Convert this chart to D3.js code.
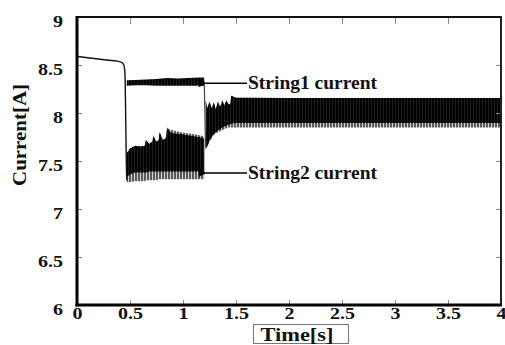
<!DOCTYPE html>
<html>
<head>
<meta charset="utf-8">
<script src="https://cdn.jsdelivr.net/npm/d3@7"></script>
<style>
  html, body { margin: 0; padding: 0; background: #fff; }
  svg { display: block; }
  text { font-family: "Liberation Serif", "Times New Roman", serif; font-weight: bold; fill: #111; }
</style>
</head>
<body>
<svg id="chart" width="505" height="345"></svg>
<script>
// Axis ticks
const xTicks = [0, 0.5, 1, 1.5, 2, 2.5, 3, 3.5, 4];
const yTicks = [6, 6.5, 7, 7.5, 8, 8.5, 9];

// Common current before the strings separate (time [s], current [A])
const startT = [0, 0.1, 0.2, 0.3, 0.38, 0.42, 0.44, 0.45, 0.455, 0.46, 0.465, 0.47];
const startI = [8.59, 8.575, 8.562, 8.55, 8.54, 8.528, 8.505, 8.45, 8.3, 7.9, 7.5, 7.3];

// String1 ripple envelope, 0.47 s .. 1.2 s
const s1T  = [0.47, 0.55, 0.65, 0.75, 0.85, 0.95, 1.05, 1.15, 1.2];
const s1Hi = [8.34, 8.345, 8.35, 8.355, 8.365, 8.36, 8.365, 8.37, 8.37];
const s1Lo = [8.285, 8.29, 8.29, 8.285, 8.285, 8.285, 8.285, 8.285, 8.285];

// String1 step back down after 1.2 s
const dropT = [1.2, 1.205, 1.21, 1.215];
const dropI = [8.33, 8.1, 7.8, 7.64];

// String2 ripple envelope, 0.47 s .. 1.2 s (dense core and lighter fringe)
const s2T      = [0.47, 0.5, 0.55, 0.6, 0.64, 0.65, 0.68, 0.71, 0.72, 0.75, 0.77, 0.78, 0.81, 0.84, 0.85, 0.87, 0.9, 0.98, 1.09, 1.19, 1.2];
const s2Hi     = [7.58, 7.63, 7.66, 7.65, 7.66, 7.72, 7.68, 7.70, 7.76, 7.70, 7.72, 7.80, 7.72, 7.74, 7.85, 7.81, 7.79, 7.78, 7.76, 7.74, 7.73];
const s2Lo     = [7.33, 7.36, 7.38, 7.38, 7.38, 7.38, 7.39, 7.39, 7.39, 7.39, 7.39, 7.39, 7.39, 7.39, 7.39, 7.39, 7.39, 7.39, 7.39, 7.39, 7.39];
const s2GreyHi = [7.58, 7.63, 7.66, 7.65, 7.66, 7.72, 7.68, 7.70, 7.76, 7.70, 7.72, 7.80, 7.72, 7.74, 7.85, 7.83, 7.82, 7.80, 7.78, 7.76, 7.75];
const s2GreyLo = [7.28, 7.28, 7.29, 7.29, 7.29, 7.30, 7.30, 7.30, 7.30, 7.30, 7.31, 7.31, 7.31, 7.31, 7.31, 7.31, 7.31, 7.31, 7.31, 7.31, 7.31];

// Merged currents after 1.2 s
const mT      = [1.215, 1.23, 1.25, 1.27, 1.29, 1.31, 1.33, 1.35, 1.37, 1.39, 1.41, 1.43, 1.445, 1.455, 1.5, 2, 2.5, 3, 3.5, 4];
const mHi     = [8.13, 8.05, 8.12, 8.05, 8.11, 8.04, 8.12, 8.06, 8.13, 8.08, 8.13, 8.09, 8.09, 8.18, 8.16, 8.155, 8.155, 8.155, 8.155, 8.155];
const mLo     = [7.62, 7.66, 7.71, 7.75, 7.78, 7.80, 7.82, 7.83, 7.85, 7.86, 7.87, 7.88, 7.88, 7.89, 7.895, 7.895, 7.895, 7.895, 7.895, 7.895];
const mGreyLo = [7.62, 7.65, 7.70, 7.74, 7.77, 7.79, 7.80, 7.81, 7.82, 7.83, 7.84, 7.85, 7.85, 7.85, 7.85, 7.85, 7.85, 7.85, 7.85, 7.85];

const svg = d3.select("#chart");
const x = d3.scaleLinear().domain([0, 4]).range([77, 501]);
const y = d3.scaleLinear().domain([6, 9]).range([305, 17]);

// Striped fills give the dense ripple bands their vertical texture
const defs = svg.append("defs");
const stripes = (id, base, stripe, w) => {
  const p = defs.append("pattern").attr("id", id).attr("patternUnits", "userSpaceOnUse")
    .attr("width", 3).attr("height", 10);
  p.append("rect").attr("width", 3).attr("height", 10).attr("fill", base);
  p.append("rect").attr("x", 2).attr("width", w).attr("height", 10).attr("fill", stripe);
};
stripes("fringe", "#5a5a5a", "#d0d0d0", 1);
stripes("core", "#000", "#1e1e1e", 1);

const band = (t, lo, hi) => d3.area()
  .x((d, i) => x(t[i])).y0((d, i) => y(lo[i])).y1((d, i) => y(hi[i]))(t);
const line = (t, v) => d3.line().x((d, i) => x(t[i])).y((d, i) => y(v[i])).curve(d3.curveMonotoneX)(t);

const plot = svg.append("g");
// String2 during separation
plot.append("path").attr("d", band(s2T, s2GreyLo, s2GreyHi)).attr("fill", "url(#fringe)");
plot.append("path").attr("d", band(s2T, s2Lo, s2Hi)).attr("fill", "url(#core)");
// String1 during separation
plot.append("path").attr("d", band(s1T, s1Lo, s1Hi)).attr("fill", "url(#core)");
// Merged after reconnection
plot.append("path").attr("d", band(mT, mGreyLo, mHi)).attr("fill", "url(#fringe)");
plot.append("path").attr("d", band(mT, mLo, mHi)).attr("fill", "url(#core)");
// Common start and the String1 drop
plot.append("path").attr("d", line(startT, startI)).attr("fill", "none").attr("stroke", "#111").attr("stroke-width", 1.4);
plot.append("path").attr("d", d3.line().x((d, i) => x(dropT[i])).y((d, i) => y(dropI[i]))(dropT))
  .attr("fill", "none").attr("stroke", "#444").attr("stroke-width", 1.2);

// Axes with inward ticks
const axG = svg.append("g").attr("class", "axes");
axG.append("g").attr("class", "x-bottom").attr("transform", "translate(0,305)")
  .call(d3.axisBottom(x).tickValues(xTicks).tickSize(-5).tickPadding(3).tickFormat(d3.format("")))
  .call(g => g.select(".domain").remove());
axG.append("g").attr("transform", "translate(0,17)")
  .call(d3.axisTop(x).tickValues(xTicks).tickSize(-7).tickFormat(""))
  .call(g => g.select(".domain").remove());
axG.append("g").attr("class", "y-left").attr("transform", "translate(77,0)")
  .call(d3.axisLeft(y).tickValues(yTicks).tickSize(-5).tickPadding(14).tickFormat(d3.format("")))
  .call(g => g.select(".domain").remove());
axG.append("g").attr("transform", "translate(501,0)")
  .call(d3.axisRight(y).tickValues(yTicks).tickSize(-5).tickFormat(""))
  .call(g => g.select(".domain").remove());
axG.selectAll("g").attr("font-family", null).attr("font-size", null);
axG.selectAll(".tick line").attr("stroke", "#888").attr("stroke-width", 1);
axG.selectAll(".tick text")
  .style("font-family", "'Liberation Serif', serif").style("font-weight", "bold")
  .style("font-size", "16px").style("fill", "#111")
  // wide, heavy numerals
  .each(function () {
    const w = this.getComputedTextLength();
    if (w > 0) d3.select(this).attr("textLength", w * 1.25).attr("lengthAdjust", "spacingAndGlyphs");
  });
// y labels sit slightly below their ticks
axG.select(".y-left").selectAll(".tick text").attr("dy", "0.62em");

// Frame
svg.append("line").attr("x1", 77).attr("x2", 501).attr("y1", 17).attr("y2", 17).attr("stroke", "#111").attr("stroke-width", 2);
svg.append("line").attr("x1", 501).attr("x2", 501).attr("y1", 16).attr("y2", 306).attr("stroke", "#222").attr("stroke-width", 2);
svg.append("line").attr("x1", 77).attr("x2", 77).attr("y1", 16).attr("y2", 306.5).attr("stroke", "#000").attr("stroke-width", 3);
svg.append("line").attr("x1", 75.5).attr("x2", 502).attr("y1", 305).attr("y2", 305).attr("stroke", "#000").attr("stroke-width", 3);

// Annotations with arrows
defs.append("marker").attr("id", "arrow").attr("viewBox", "0 0 10 10")
  .attr("refX", 1).attr("refY", 5).attr("markerWidth", 10).attr("markerHeight", 8)
  .attr("markerUnits", "userSpaceOnUse").attr("orient", "auto")
  .append("path").attr("d", "M10,0 L0,5 L10,10 Z").attr("fill", "#000");

const notes = [
  { label: "String1 current", value: 8.31 },
  { label: "String2 current", value: 7.375 }
];
notes.forEach(n => {
  svg.append("line").attr("x1", 247).attr("x2", 206).attr("y1", y(n.value)).attr("y2", y(n.value))
    .attr("stroke", "#000").attr("stroke-width", 1.5).attr("marker-end", "url(#arrow)");
  svg.append("text").attr("x", 248).attr("y", y(n.value) + 6).attr("font-size", 18)
    .attr("textLength", 129).attr("lengthAdjust", "spacingAndGlyphs").text(n.label);
});

// Axis titles
svg.append("text").attr("transform", "translate(26,135) rotate(-90)").attr("text-anchor", "middle")
  .attr("font-size", 19).attr("textLength", 102).attr("lengthAdjust", "spacingAndGlyphs").text("Current[A]");
svg.append("rect").attr("x", 253.5).attr("y", 324.5).attr("width", 95).attr("height", 19)
  .attr("fill", "none").attr("stroke", "#777").attr("stroke-width", 1);
svg.append("text").attr("x", 297).attr("y", 341).attr("text-anchor", "middle").attr("font-size", 18)
  .attr("textLength", 73).attr("lengthAdjust", "spacingAndGlyphs").text("Time[s]");
</script>
</body>
</html>
